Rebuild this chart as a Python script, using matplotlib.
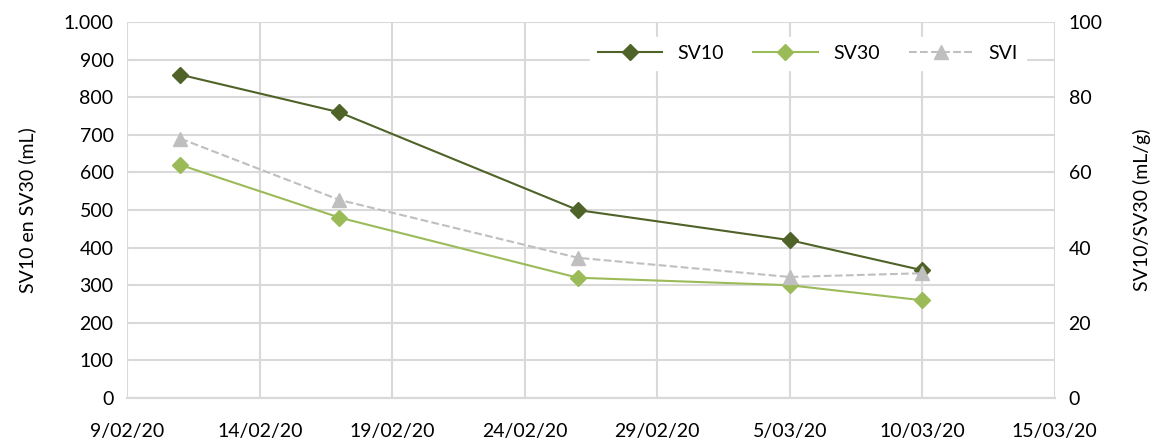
import numpy as np
import matplotlib.pyplot as plt
import matplotlib.dates as mdates
import pandas as pd

plt.rcParams['font.family'] = ['Lato', 'DejaVu Sans']

dates = pd.to_datetime(['2020-02-11', '2020-02-17', '2020-02-26', '2020-03-05', '2020-03-10'])
sv10 = [860, 760, 500, 420, 340]
sv30 = [620, 480, 320, 300, 260]
svi = [69, 52.7, 37.3, 32.2, 33.2]

tick_dates = pd.date_range('2020-02-09', '2020-03-15', freq='5D')
tick_labels = [f'{d.day}/{d.month:02d}/20' for d in tick_dates]
left_ticks = list(range(0, 1001, 100))
left_labels = ['1.000' if v == 1000 else str(v) for v in left_ticks]

fig = plt.figure(figsize=(11.59, 4.42), dpi=100)
ax = fig.add_axes([0.110, 0.0995, 0.80, 0.8505])
ax2 = ax.twinx()

ax.plot(dates, sv10, color='#4f6228', marker='D', markersize=8, lw=1.5, label='SV10')
ax.plot(dates, sv30, color='#9bbb59', marker='D', markersize=8, lw=1.5, label='SV30')
ax2.plot(dates, svi, color='#bfbfbf', marker='^', markersize=10, lw=1.5, ls='--', label='SVI')

ax.set_xlim(tick_dates[0], tick_dates[-1])
ax.set_xticks(tick_dates)
ax.set_xticklabels(tick_labels)
ax.set_ylim(0, 1000)
ax.set_yticks(left_ticks)
ax.set_yticklabels(left_labels)
ax2.set_ylim(0, 100)
ax2.set_yticks(range(0, 101, 20))

ax.grid(True, color='#d9d9d9', lw=1.5)
ax.set_axisbelow(True)
for a in (ax, ax2):
    for s in ['top', 'left', 'right']:
        a.spines[s].set_visible(False)
    a.spines['bottom'].set_color('#d9d9d9')
    a.spines['bottom'].set_linewidth(1.5)
    a.tick_params(length=0, labelsize=14, colors='black')
ax.tick_params(axis='x', pad=18)
ax.tick_params(axis='y', pad=10)
ax2.tick_params(axis='y', pad=10)

ax.set_ylabel('SV10 en SV30 (mL)', fontsize=14, labelpad=20)
ax2.set_ylabel('SV10/SV30 (mL/g)', fontsize=14, labelpad=22)

h1, l1 = ax.get_legend_handles_labels()
h2, l2 = ax2.get_legend_handles_labels()
leg = ax2.legend(h1 + h2, l1 + l2, loc='upper right', ncol=3, frameon=True,
                 fontsize=14, handlelength=3.3, columnspacing=1.5,
                 bbox_to_anchor=(0.975, 0.975), borderaxespad=0.3)
leg.get_frame().set_facecolor('white')
leg.get_frame().set_edgecolor('white')
leg.get_frame().set_alpha(1)

fig.savefig('out.png')
